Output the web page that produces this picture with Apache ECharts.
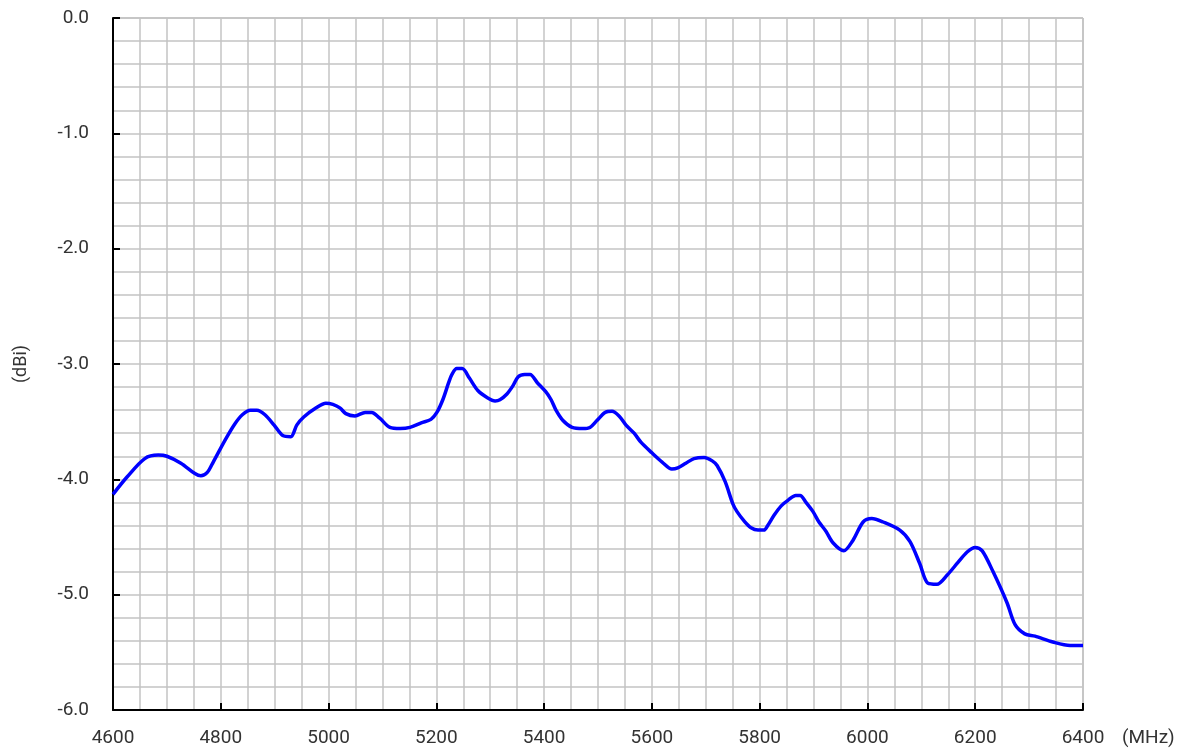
<!DOCTYPE html>
<html>
<head>
<meta charset="utf-8">
<title>Gain</title>
<script src="https://cdn.jsdelivr.net/npm/echarts@6/dist/echarts.min.js"></script>
<style>
    html, body { margin: 0; padding: 0; background: #fff; }
    #chart { width: 1186px; height: 752px; }
</style>
</head>
<body>
<div id="chart"></div>
<script>
    // frequency (MHz) and gain (dBi)
    var freq = [4600, 4626, 4659, 4684, 4700, 4726, 4752, 4763, 4775, 4786, 4808, 4826, 4840,
        4855, 4867, 4882, 4899, 4915, 4930, 4941, 4954, 4977, 4995, 5008, 5021, 5032, 5049,
        5068, 5080, 5095, 5114, 5133, 5151, 5172, 5190, 5201, 5212, 5223, 5229, 5238, 5248,
        5261, 5277, 5294, 5309, 5318, 5331, 5342, 5352, 5364, 5374, 5387, 5403, 5413, 5422,
        5435, 5452, 5472, 5485, 5498, 5513, 5526, 5539, 5552, 5567, 5580, 5600, 5619, 5637,
        5648, 5663, 5678, 5697, 5712, 5721, 5736, 5750, 5758, 5771, 5784, 5797, 5808, 5815,
        5827, 5840, 5853, 5867, 5875, 5886, 5899, 5910, 5923, 5936, 5956, 5973, 5992, 6008,
        6029, 6060, 6079, 6097, 6112, 6129, 6148, 6168, 6185, 6200, 6213, 6233, 6259, 6274,
        6292, 6311, 6344, 6376, 6400];
    var gain = [-4.13, -3.98, -3.82, -3.79, -3.80, -3.86, -3.95, -3.97, -3.94, -3.85, -3.66, -3.52, -3.44,
        -3.40, -3.40, -3.44, -3.53, -3.62, -3.63, -3.53, -3.46, -3.38, -3.34, -3.35, -3.38, -3.43, -3.45,
        -3.42, -3.42, -3.47, -3.55, -3.56, -3.55, -3.51, -3.48, -3.42, -3.31, -3.16, -3.09, -3.04, -3.04,
        -3.12, -3.23, -3.29, -3.32, -3.31, -3.26, -3.19, -3.11, -3.09, -3.09, -3.16, -3.24, -3.31, -3.40,
        -3.49, -3.55, -3.56, -3.55, -3.49, -3.42, -3.41, -3.45, -3.53, -3.60, -3.68, -3.77, -3.85, -3.91,
        -3.90, -3.86, -3.82, -3.81, -3.84, -3.88, -4.02, -4.21, -4.28, -4.36, -4.42, -4.44, -4.44, -4.40,
        -4.31, -4.23, -4.18, -4.14, -4.14, -4.20, -4.28, -4.37, -4.45, -4.55, -4.62, -4.53, -4.37, -4.34,
        -4.37, -4.44, -4.54, -4.73, -4.90, -4.91, -4.83, -4.72, -4.63, -4.59, -4.62, -4.80, -5.07, -5.26,
        -5.34, -5.36, -5.41, -5.44, -5.44];

    var gridColor = '#c4c4c4';
    var textStyle = { color: '#333', fontSize: 19, fontFamily: 'Roboto' };

    var chart = echarts.init(document.getElementById('chart'), null, { renderer: 'canvas' });
    chart.setOption({
        animation: false,
        grid: {
            left: 113, right: 103, top: 18, bottom: 42,
            outerBoundsMode: 'none',
            show: true, borderColor: '#999', borderWidth: 1
        },
        xAxis: {
            type: 'value',
            min: 4600, max: 6400, interval: 200,
            axisLine: { show: true, onZero: false, lineStyle: { color: '#000', width: 2 } },
            axisTick: { show: true, inside: true, length: 7, lineStyle: { color: '#000', width: 2 } },
            axisLabel: Object.assign({
                margin: 19,
                formatter: function (v) { return String(v); }
            }, textStyle),
            splitLine: { show: true, lineStyle: { color: gridColor, width: 1.5 } },
            minorTick: { show: false, splitNumber: 4 },
            minorSplitLine: { show: true, lineStyle: { color: gridColor, width: 1.5 } },
            name: '(MHz)',
            nameLocation: 'end',
            nameGap: 39,
            nameTextStyle: Object.assign({ verticalAlign: 'top', padding: [19, 0, 0, 0] }, textStyle)
        },
        yAxis: {
            type: 'value',
            min: -6, max: 0, interval: 1,
            axisLine: { show: true, onZero: false, lineStyle: { color: '#000', width: 2 } },
            axisTick: { show: true, inside: true, length: 7, lineStyle: { color: '#000', width: 2 } },
            axisLabel: Object.assign({
                margin: 24,
                formatter: function (v) { return v.toFixed(1); }
            }, textStyle),
            splitLine: { show: true, lineStyle: { color: gridColor, width: 1.5 } },
            minorTick: { show: false, splitNumber: 5 },
            minorSplitLine: { show: true, lineStyle: { color: gridColor, width: 1.5 } },
            name: '(dBi)',
            nameLocation: 'middle',
            nameRotate: 90,
            nameGap: 83,
            nameTextStyle: Object.assign({}, textStyle, { fontSize: 18 })
        },
        series: [{
            type: 'line',
            data: freq.map(function (f, i) { return [f, gain[i]]; }),
            smooth: 0.3,
            showSymbol: false,
            lineStyle: { color: '#0000ff', width: 3.5 }
        }]
    });
</script>
</body>
</html>
